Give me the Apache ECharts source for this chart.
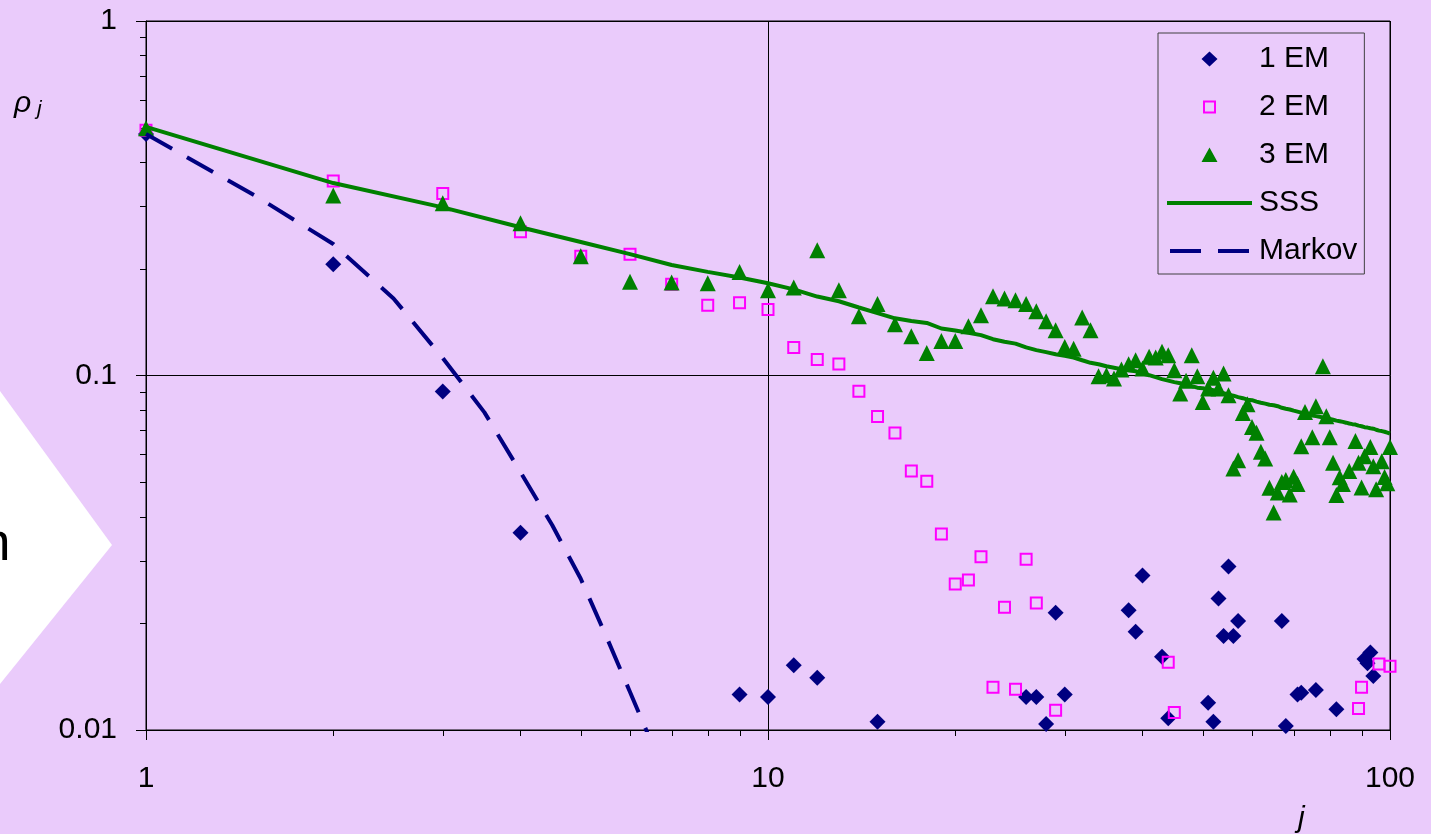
<!DOCTYPE html>
<html>
<head>
<meta charset="utf-8">
<script src="https://cdn.jsdelivr.net/npm/echarts@6/dist/echarts.min.js"></script>
<style>
  html, body { margin: 0; padding: 0; background: #EACBFB; }
  #chart { width: 1431px; height: 834px; }
</style>
</head>
<body>
<div id="chart"></div>
<script>
// ---------- data ----------
const xTickLabels = ['1', '10', '100'];
const yTickLabels = ['0.01', '0.1', '1'];
const xMinorTicks = [2, 3, 4, 5, 6, 7, 8, 9, 20, 30, 40, 50, 60, 70, 80, 90];
const yMinorTicks = [0.02, 0.03, 0.04, 0.05, 0.06, 0.07, 0.08, 0.09, 0.2, 0.3, 0.4, 0.5, 0.6, 0.7, 0.8, 0.9];

const em1J = [1, 2, 3, 4, 9, 10, 11, 12, 15, 26, 27, 28, 29, 30, 38, 39, 40, 43, 44, 51, 52, 53, 54, 55, 56, 57, 67, 68, 71, 72, 76, 82, 91, 92, 93, 94];
const em1Rho = [0.48, 0.206, 0.0901, 0.036, 0.0126, 0.0124, 0.01524, 0.01404, 0.01055, 0.0124, 0.0124, 0.0104, 0.0214, 0.0126, 0.02175, 0.01892, 0.0273, 0.0161, 0.0108, 0.01193, 0.01055, 0.0235, 0.0184, 0.0289, 0.0184, 0.0203, 0.0203, 0.01026, 0.0126, 0.01273, 0.01296, 0.01145, 0.01585, 0.01542, 0.01655, 0.0142];

const em2J = [1, 2, 3, 4, 5, 6, 7, 8, 9, 10, 11, 12, 13, 14, 15, 16, 17, 18, 19, 20, 21, 22, 23, 24, 25, 26, 27, 29, 44, 45, 89, 90, 96, 100];
const em2Rho = [0.492, 0.3535, 0.326, 0.2545, 0.217, 0.2197, 0.181, 0.1578, 0.1603, 0.1535, 0.120, 0.111, 0.1078, 0.0903, 0.0766, 0.0688, 0.0538, 0.0503, 0.0357, 0.0258, 0.0265, 0.0308, 0.0132, 0.0222, 0.01304, 0.0303, 0.0228, 0.01136, 0.01554, 0.0112, 0.0115, 0.0132, 0.01534, 0.01514];

const em3J = [1, 2, 3, 4, 5, 6, 7, 8, 9, 10, 11, 12, 13, 14, 15, 16, 17, 18, 19, 20,
  21, 22, 23, 24, 25, 26, 27, 28, 29, 30, 31, 32, 33, 34, 35, 36, 37, 38, 39, 40,
  41, 42, 43, 44, 45, 46, 47, 48, 49, 50, 51, 52, 53, 54, 55, 56, 57, 58, 59, 60,
  61, 62, 63, 64, 65, 66, 67, 68, 69, 70, 71, 72, 73, 75, 76, 78, 79, 80, 81, 82,
  83, 84, 86, 88, 89, 90, 91, 93, 94, 95, 97, 98, 99, 100];
const em3Rho = [0.498, 0.322, 0.306, 0.269, 0.217, 0.1837, 0.183, 0.182, 0.196, 0.174, 0.177, 0.2256, 0.174, 0.147, 0.159, 0.1395, 0.129, 0.1158, 0.1252, 0.1252,
  0.1377, 0.148, 0.1673, 0.1649, 0.1631, 0.159, 0.1518, 0.1422, 0.1341, 0.1204, 0.1189, 0.1457, 0.1341, 0.0995, 0.1002, 0.098, 0.104, 0.1076, 0.1105, 0.1047,
  0.1129, 0.1124, 0.1166, 0.114, 0.1035, 0.089, 0.0966, 0.114, 0.0995, 0.0842, 0.0919, 0.0985, 0.0919, 0.1013, 0.088, 0.0547, 0.0577, 0.0784, 0.083, 0.0716,
  0.0689, 0.0609, 0.0583, 0.0482, 0.0411, 0.0468, 0.0501, 0.0507, 0.0462, 0.0518, 0.0494, 0.0632, 0.0789, 0.067, 0.0819, 0.1062, 0.0768, 0.067, 0.0567, 0.046,
  0.0516, 0.0494, 0.0538, 0.0654, 0.0567, 0.0483, 0.0592, 0.0628, 0.0555, 0.0478, 0.0573, 0.0517, 0.0497, 0.0628];

const sssJ = [1, 2, 3, 4, 5, 6, 7, 8, 9, 10, 11, 12, 13, 14, 15, 16, 17, 18, 19, 20,
  21, 22, 23, 24, 25, 26, 27, 28, 29, 30, 31, 32, 33, 34, 35, 36, 37, 38, 39, 40,
  41, 42, 43, 44, 45, 46, 47, 48, 49, 50, 51, 52, 53, 54, 55, 56, 57, 58, 59, 60,
  61, 62, 63, 64, 65, 66, 67, 68, 69, 70, 71, 72, 73, 74, 75, 76, 77, 78, 79, 80,
  81, 82, 83, 84, 85, 86, 87, 88, 89, 90, 91, 92, 93, 94, 95, 96, 97, 98, 99, 100];
const sssRho = [0.503, 0.349, 0.298, 0.262, 0.238, 0.220, 0.205, 0.196, 0.189, 0.182,
  0.175, 0.167, 0.162, 0.1555, 0.150, 0.145, 0.1425, 0.1407, 0.1357, 0.134,
  0.132, 0.130, 0.1266, 0.1245, 0.123, 0.120, 0.1179, 0.1164, 0.1148, 0.1136,
  0.1124, 0.1104, 0.1086, 0.1076, 0.1062, 0.1052, 0.1042, 0.1035, 0.1028, 0.1012,
  0.1002, 0.0989, 0.0977, 0.0967, 0.0958, 0.0951, 0.0942, 0.0933, 0.0924, 0.0921,
  0.0915, 0.0909, 0.0903, 0.0891, 0.0883, 0.0877, 0.0869, 0.0863, 0.0855, 0.0852,
  0.0844, 0.0838, 0.0833, 0.0827, 0.0824, 0.0819, 0.0811, 0.0806, 0.0802, 0.0796,
  0.0791, 0.0786, 0.0780, 0.0775, 0.0771, 0.0768, 0.0765, 0.0762, 0.0758, 0.0754,
  0.0750, 0.0746, 0.0743, 0.0740, 0.0736, 0.0732, 0.0729, 0.0727, 0.0722, 0.0719,
  0.0715, 0.0713, 0.0710, 0.0708, 0.0703, 0.0699, 0.0697, 0.0694, 0.0690, 0.0686];

const markovJ = [1, 1.5, 2, 2.5, 3, 3.5, 4, 4.5, 5, 5.5, 6, 6.5];
const markovRho = [0.48, 0.321, 0.235, 0.165, 0.112, 0.0787, 0.0534, 0.0378, 0.0267, 0.0183, 0.0128, 0.0092];

// ---------- helpers ----------
const zip = (xs, ys) => xs.map((x, i) => [x, ys[i]]);
const FONT = '"Liberation Sans", Arial, sans-serif';
const BG = '#EACBFB';
const NAVY = '#000080', MAGENTA = '#FF00FF', GREEN = '#008000';

// legend icons: each path spans an 85 x 16 box (a zero-area guide line fixes the box)
const BOX = 'M0,0L0,16M85,0L85,16';
const ICON_DIAMOND = 'path://' + BOX + 'M34.5,8L42.5,0.5L50.5,8L42.5,15.5Z';
const ICON_SQUARE = 'path://' + BOX + 'M36,1.5H49V14.5H36ZM38,3.5V12.5H47V3.5Z';
const ICON_TRIANGLE = 'path://' + BOX + 'M34.5,15L42.5,0.5L50.5,15Z';
const ICON_SOLID = 'path://M0,-6L0,10M0,0H85V4H0Z';
const ICON_DASH = 'path://M39.5,-6L39.5,10M0,0H31V4H0ZM48,0H79V4H48Z';

const chart = echarts.init(document.getElementById('chart'), null, { renderer: 'canvas' });

const option = {
  animation: false,
  backgroundColor: BG,
  grid: {
    left: 146, right: 41, top: 21, bottom: 104,
    show: true, borderColor: '#000', borderWidth: 1, backgroundColor: 'transparent'
  },
  xAxis: {
    type: 'log', logBase: 10, min: 1, max: 100,
    axisLine: { show: true, onZero: false, lineStyle: { color: '#000', width: 1 } },
    axisTick: { show: true, inside: false, length: 10, lineStyle: { color: '#000' } },
    splitLine: { show: true, lineStyle: { color: '#000', width: 1 } },
    axisLabel: {
      color: '#000', fontSize: 30, fontFamily: FONT, margin: 34,
      formatter: v => xTickLabels[Math.round(Math.log10(v))]
    }
  },
  yAxis: {
    type: 'log', logBase: 10, min: 0.01, max: 1,
    axisLine: { show: true, onZero: false, lineStyle: { color: '#000', width: 1 } },
    axisTick: { show: true, inside: false, length: 10, lineStyle: { color: '#000' } },
    splitLine: { show: true, lineStyle: { color: '#000', width: 1 } },
    axisLabel: {
      color: '#000', fontSize: 30, fontFamily: FONT, margin: 29,
      formatter: v => yTickLabels[Math.round(Math.log10(v)) + 2]
    }
  },
  legend: {
    orient: 'vertical', left: 1158, top: 33,
    itemWidth: 85, itemHeight: 16, itemGap: 18,
    padding: [11, 7, 8, 9],
    backgroundColor: BG, borderColor: '#404040', borderWidth: 1,
    selectedMode: false,
    textStyle: { fontSize: 30, color: '#000', fontFamily: FONT, padding: [0, 0, 0, 2] },
    data: [
      { name: '1 EM', icon: ICON_DIAMOND, itemStyle: { color: NAVY, borderWidth: 0, opacity: 1 } },
      { name: '2 EM', icon: ICON_SQUARE, itemStyle: { color: MAGENTA, borderWidth: 0, opacity: 1 } },
      { name: '3 EM', icon: ICON_TRIANGLE, itemStyle: { color: GREEN, borderWidth: 0, opacity: 1 } },
      { name: 'SSS', icon: ICON_SOLID, itemStyle: { color: GREEN, borderWidth: 0, opacity: 1 } },
      { name: 'Markov', icon: ICON_DASH, itemStyle: { color: NAVY, borderWidth: 0, opacity: 1 } }
    ]
  },
  series: [
    {
      name: '1 EM', type: 'scatter', symbol: 'diamond', symbolSize: 16,
      itemStyle: { color: NAVY, opacity: 1 },
      data: zip(em1J, em1Rho)
    },
    {
      name: '2 EM', type: 'scatter', symbol: 'rect', symbolSize: 11,
      itemStyle: { color: 'rgba(0,0,0,0)', borderColor: MAGENTA, borderWidth: 2, opacity: 1 },
      data: zip(em2J, em2Rho)
    },
    {
      name: '3 EM', type: 'scatter', symbol: 'triangle', symbolSize: 16,
      itemStyle: { color: GREEN, opacity: 1 },
      data: zip(em3J, em3Rho)
    },
    {
      name: 'SSS', type: 'line', symbol: 'none', showSymbol: false,
      lineStyle: { color: GREEN, width: 4 }, itemStyle: { color: GREEN },
      data: zip(sssJ, sssRho)
    },
    {
      name: 'Markov', type: 'line', symbol: 'none', showSymbol: false, clip: true,
      lineStyle: { color: NAVY, width: 4, type: [30, 17] }, itemStyle: { color: NAVY },
      data: zip(markovJ, markovRho)
    },
    {
      name: 'xMinor', type: 'custom', silent: true, clip: false,
      data: xMinorTicks.map(v => [v, 0.01]),
      renderItem: (params, api) => {
        const p = api.coord([api.value(0), api.value(1)]);
        const x = Math.round(p[0]) + 0.5;
        return { type: 'line', shape: { x1: x, y1: p[1], x2: x, y2: p[1] + 6 }, style: { stroke: '#000', lineWidth: 1 } };
      }
    },
    {
      name: 'yMinor', type: 'custom', silent: true, clip: false,
      data: yMinorTicks.map(v => [1, v]),
      renderItem: (params, api) => {
        const p = api.coord([api.value(0), api.value(1)]);
        const y = Math.round(p[1]) + 0.5;
        return { type: 'line', shape: { x1: p[0] - 6, y1: y, x2: p[0], y2: y }, style: { stroke: '#000', lineWidth: 1 } };
      }
    }
  ],
  graphic: [
    { type: 'polygon', silent: true, shape: { points: [[0, 391], [112, 545], [0, 684]] }, style: { fill: '#FFFFFF' } },
    { type: 'text', silent: true, x: -19, y: 545, style: { text: 'n', font: '53px ' + FONT, fill: '#000', verticalAlign: 'middle' } },
    { type: 'text', silent: true, x: 14, y: 104, style: { text: 'ρ', font: 'italic 30px ' + FONT, fill: '#000', verticalAlign: 'middle' } },
    { type: 'text', silent: true, x: 37, y: 109, style: { text: 'j', font: 'italic 21px ' + FONT, fill: '#000', verticalAlign: 'middle' } },
    { type: 'text', silent: true, x: 1298, y: 819, style: { text: 'j', font: 'italic 30px ' + FONT, fill: '#000', verticalAlign: 'middle' } }
  ]
};

chart.setOption(option);
</script>
</body>
</html>
